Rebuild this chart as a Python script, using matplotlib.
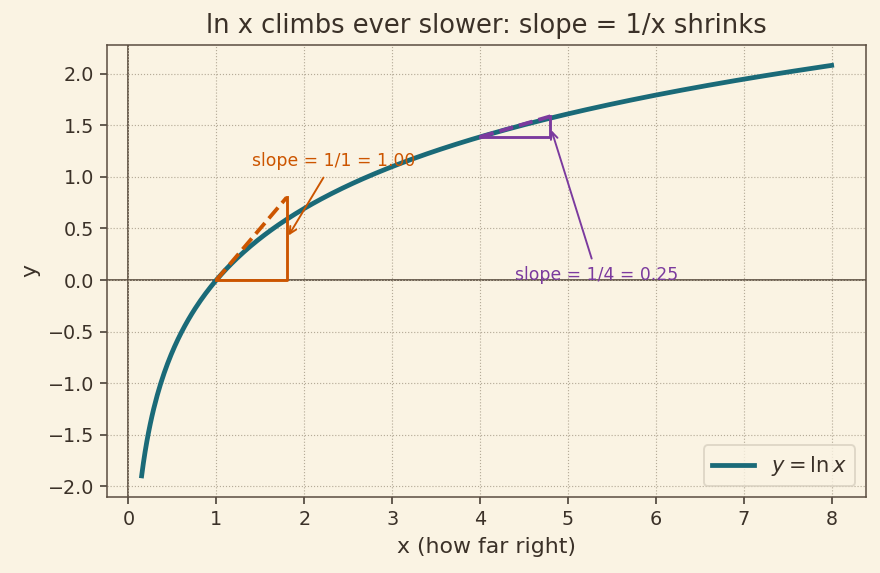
import numpy as np
import matplotlib.pyplot as plt

bg = '#faf3e3'
ink = '#3b3128'
teal = '#1a6a78'
orange = '#cc5500'
purple = '#7b3a9e'

x_start, x_end = 0.15, 8
tangent_points = [1, 4]
run = 0.8
tangent_colors = [orange, purple]
slope_labels = ['slope = 1/1 = 1.00', 'slope = 1/4 = 0.25']
label_pos = [(1.4, 1.1), (4.4, 0.0)]

plt.rcParams['font.family'] = 'DejaVu Sans'
fig, ax = plt.subplots(figsize=(6.4, 4.1673), dpi=137.5)
fig.patch.set_facecolor(bg)
ax.set_facecolor(bg)

x = np.linspace(x_start, x_end, 400)
ax.plot(x, np.log(x), color=teal, lw=2.5, label=r'$y = \ln x$', zorder=3)

ax.axhline(0, color='#5a4d40', lw=0.9, zorder=1)
ax.axvline(0, color='#5a4d40', lw=0.9, zorder=1)

for x0, c, lab, pos in zip(tangent_points, tangent_colors, slope_labels, label_pos):
    y0 = np.log(x0)
    m = 1 / x0
    x1 = x0 + run
    y1 = y0 + m * run
    ax.plot([x0, x1], [y0, y1], color=c, lw=2.0, ls='--', zorder=4)
    ax.plot([x0, x1, x1], [y0, y0, y1], color=c, lw=1.5, zorder=4)
    ax.annotate(lab, xy=(x1, (y0 + y1) / 2), xytext=pos, color=c, fontsize=9,
                arrowprops=dict(arrowstyle='->', color=c, lw=1.0), zorder=5)

ax.set_xlim(-0.24, 8.39)
ax.set_ylim(-2.1, 2.28)
ax.set_title('ln x climbs ever slower: slope = 1/x shrinks', fontsize=13.5, color=ink)
ax.set_xlabel('x (how far right)', fontsize=11.5, color=ink)
ax.set_ylabel('y', fontsize=11.5, color=ink)
ax.set_xticks(range(0, 9))
ax.set_yticks(np.arange(-2, 2.01, 0.5))
ax.tick_params(colors=ink, labelsize=10)
ax.grid(True, ls=':', color='#b5ab98', lw=0.6)
for s in ax.spines.values():
    s.set_color('#5a4d40')
ax.legend(loc='lower right', fontsize=11, facecolor=bg, edgecolor='#d8d0c0', labelcolor=ink)

fig.subplots_adjust(left=0.122, right=0.984, top=0.922, bottom=0.133)
fig.savefig('out.png', facecolor=bg)
